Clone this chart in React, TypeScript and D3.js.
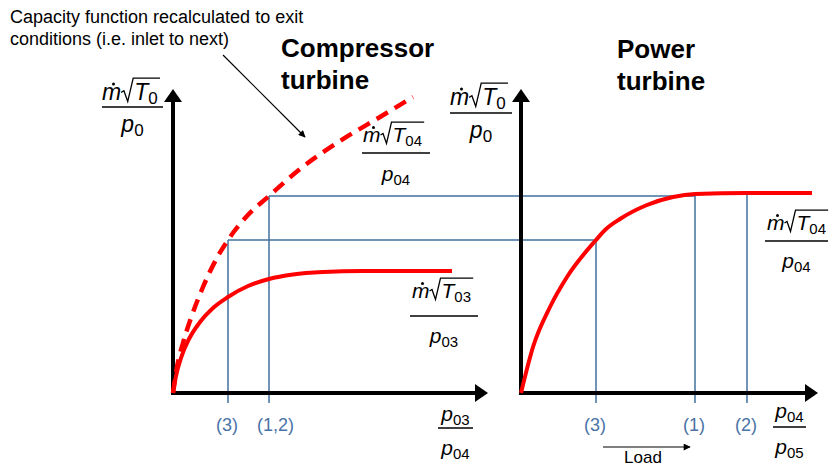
import React from "react";
import * as d3 from "d3";

const FONT = "'Liberation Sans', Arial, Helvetica, sans-serif";

// Capacity curves, [pressure-ratio units, flow units]
const ctInletX = [0, 3, 8, 16, 27, 40, 55, 75, 96, 120, 150, 190, 279];
const ctInletY = [0, 17, 35, 54, 71, 85, 96, 107, 114, 118.5, 121, 122, 122];
const ctExitX = [0, 4, 10, 18, 30, 45, 55, 74, 96, 127, 167, 207, 240];
const ctExitY = [0, 26, 50, 75, 106, 137, 153, 177, 197, 224, 252, 276, 296];
const ptX = [0, 12, 29, 46, 75, 84, 99, 126, 152, 174, 226, 291];
const ptY = [0, 46, 86, 116, 153, 163, 174, 188, 196, 199, 200, 200];

// Operating points
const ctLabels = ["(3)", "(1,2)"];
const ctOpX = [55, 96];
const ctOpFlow = [153, 197];
const ptLabels = ["(3)", "(1)", "(2)"];
const ptOpX = [75, 174, 226];
const ptOpFlow = [153, 197, 200];

const BLUE = "#41719c";
const BLUE_TXT = "#4a73a6";
const RED = "#ff0000";

const xCT = d3.scaleLinear().domain([0, 315]).range([173, 488]);
const xPT = d3.scaleLinear().domain([0, 297]).range([521, 818]);
const yF = d3.scaleLinear().domain([0, 304]).range([393, 89]);

const zip = (a: number[], b: number[]) => a.map((v, i) => [v, b[i]] as [number, number]);

function MdotFrac(p: {
  x0: number; base: number; lineY: number; lx1: number; lx2: number;
  sub: string; denBase: number; denSub: string; fs?: number; ss?: number;
}) {
  const fs = p.fs ?? 21;
  const ss = p.ss ?? 15;
  const k = fs / 21;
  const over = p.base - fs * 0.95;
  const rx = p.x0 + 17.5 * k;
  const tx = rx + 12 * k;
  const sx = tx + 13.5 * k;
  const ex = sx + p.sub.length * 0.556 * ss + 1.5;
  const cx = (p.lx1 + p.lx2) / 2;
  return (
    <g>
      <text x={p.x0} y={p.base} fontStyle="italic" fontSize={fs}>m</text>
      <circle cx={p.x0 + 10.5 * k} cy={p.base - 14.5 * k} r={1.5} fill="#000" />
      <path
        d={`M${rx},${p.base - 7 * k} L${rx + 2.5 * k},${p.base - 8.5 * k} L${rx + 6 * k},${p.base + 1.5} L${rx + 11 * k},${over} L${ex},${over}`}
        fill="none" stroke="#000" strokeWidth={1.3}
      />
      <text x={tx} y={p.base} fontSize={fs}>
        <tspan fontStyle="italic">T</tspan>
        <tspan fontSize={ss} dy={4}>{p.sub}</tspan>
      </text>
      <line x1={p.lx1} x2={p.lx2} y1={p.lineY} y2={p.lineY} stroke="#000" strokeWidth={1.3} />
      <text x={cx} y={p.denBase} textAnchor="middle" fontSize={fs}>
        <tspan fontStyle="italic">p</tspan>
        <tspan fontSize={ss} dy={4}>{p.denSub}</tspan>
      </text>
    </g>
  );
}

function PFrac(p: { lineY: number; lx1: number; lx2: number; numBase: number; denBase: number; num: string; den: string }) {
  const cx = (p.lx1 + p.lx2) / 2;
  return (
    <g>
      <text x={cx} y={p.numBase} textAnchor="middle" fontSize={21}>
        <tspan fontStyle="italic">p</tspan>
        <tspan fontSize={15} dy={4}>{p.num}</tspan>
      </text>
      <line x1={p.lx1} x2={p.lx2} y1={p.lineY} y2={p.lineY} stroke="#000" strokeWidth={1.3} />
      <text x={cx} y={p.denBase} textAnchor="middle" fontSize={21}>
        <tspan fontStyle="italic">p</tspan>
        <tspan fontSize={15} dy={4}>{p.den}</tspan>
      </text>
    </g>
  );
}

function Axes({ sx }: { sx: d3.ScaleLinear<number, number> }) {
  const [x0, x1] = sx.range();
  const [y0, y1] = yF.range();
  const head = 13, hw = 9;
  return (
    <g>
      <line x1={x0} x2={x0} y1={y0 + 2} y2={y1 + head - 1} stroke="#000" strokeWidth={4} />
      <line x1={x0 - 2} x2={x1 - head + 1} y1={y0} y2={y0} stroke="#000" strokeWidth={4} />
      <polygon points={`${x0},${y1} ${x0 - hw},${y1 + head} ${x0 + hw},${y1 + head}`} fill="#000" />
      <polygon points={`${x1},${y0} ${x1 - head},${y0 - hw} ${x1 - head},${y0 + hw}`} fill="#000" />
    </g>
  );
}

export default function App() {
  const lineCT = d3.line<[number, number]>().x((d) => xCT(d[0])).y((d) => yF(d[1])).curve(d3.curveMonotoneX);
  const linePT = d3.line<[number, number]>().x((d) => xPT(d[0])).y((d) => yF(d[1])).curve(d3.curveMonotoneX);
  const base = yF(0);
  const tickEnd = base + 10;
  const labelY = 431;

  return (
    <svg width={830} height={467} style={{ position: "absolute", left: 0, top: 0, background: "#fff" }} fontFamily={FONT}>
      <defs>
        <marker id="ah" viewBox="0 0 10 10" refX="9" refY="5" markerWidth="10" markerHeight="7" markerUnits="userSpaceOnUse" orient="auto">
          <path d="M0,0 L10,5 L0,10 z" fill="#000" />
        </marker>
      </defs>

      {/* operating-point construction lines */}
      <g stroke={BLUE} strokeWidth={1.5} fill="none">
        {ctOpX.map((v, i) => (
          <line key={"h" + i} x1={xCT(v)} x2={xPT(ptOpX[i])} y1={yF(ctOpFlow[i])} y2={yF(ctOpFlow[i])} />
        ))}
        {ctOpX.map((v, i) => (
          <line key={"cv" + i} x1={xCT(v)} x2={xCT(v)} y1={yF(ctOpFlow[i])} y2={tickEnd} />
        ))}
        {ptOpX.map((v, i) => (
          <line key={"pv" + i} x1={xPT(v)} x2={xPT(v)} y1={yF(ptOpFlow[i])} y2={tickEnd} />
        ))}
      </g>

      <Axes sx={xCT} />
      <Axes sx={xPT} />

      <path d={lineCT(zip(ctInletX, ctInletY)) || ""} fill="none" stroke={RED} strokeWidth={4} />
      <path d={lineCT(zip(ctExitX, ctExitY)) || ""} fill="none" stroke={RED} strokeWidth={4.5} strokeDasharray="13 8" />
      <path d={linePT(zip(ptX, ptY)) || ""} fill="none" stroke={RED} strokeWidth={4} />

      {/* operating-point labels */}
      <g fill={BLUE_TXT} fontSize={18}>
        {ctLabels.map((l, i) => (
          <text key={"cl" + i} x={xCT(ctOpX[i]) - 12} y={labelY}>{l}</text>
        ))}
        {ptLabels.map((l, i) => (
          <text key={"pl" + i} x={xPT(ptOpX[i]) - 12} y={labelY}>{l}</text>
        ))}
      </g>

      {/* titles */}
      <g fontWeight="bold" fontSize={26} fill="#000">
        <text x={281} y={57}>Compressor</text>
        <text x={281} y={89}>turbine</text>
        <text x={617} y={58}>Power</text>
        <text x={617} y={90}>turbine</text>
      </g>

      {/* annotation */}
      <g fontSize={18} fill="#000">
        <text x={10} y={23}>Capacity function recalculated to exit</text>
        <text x={10} y={45}>conditions (i.e. inlet to next)</text>
      </g>
      <line x1={223} y1={55} x2={305} y2={137} stroke="#000" strokeWidth={1.2} markerEnd="url(#ah)" />

      {/* load arrow */}
      <line x1={603} y1={447} x2={690} y2={447} stroke="#000" strokeWidth={1.2} markerEnd="url(#ah)" />
      <text x={643} y={463} textAnchor="middle" fontSize={17}>Load</text>

      {/* fraction labels */}
      <MdotFrac x0={102} base={100} lineY={107} lx1={102} lx2={163} sub="0" denBase={132} denSub="0" fs={23} ss={17} />
      <MdotFrac x0={450} base={105} lineY={113} lx1={450} lx2={512} sub="0" denBase={138} denSub="0" fs={23} ss={17} />
      <MdotFrac x0={363} base={142} lineY={153} lx1={362} lx2={430} sub="04" denBase={181} denSub="04" />
      <MdotFrac x0={412} base={298} lineY={316} lx1={410} lx2={478} sub="03" denBase={343} denSub="03" />
      <MdotFrac x0={767} base={230} lineY={241} lx1={765} lx2={828} sub="04" denBase={268} denSub="04" />

      <PFrac lineY={428} lx1={438} lx2={473} numBase={421} denBase={455} num="03" den="04" />
      <PFrac lineY={427} lx1={773} lx2={806} numBase={418} denBase={454} num="04" den="05" />
    </svg>
  );
}
